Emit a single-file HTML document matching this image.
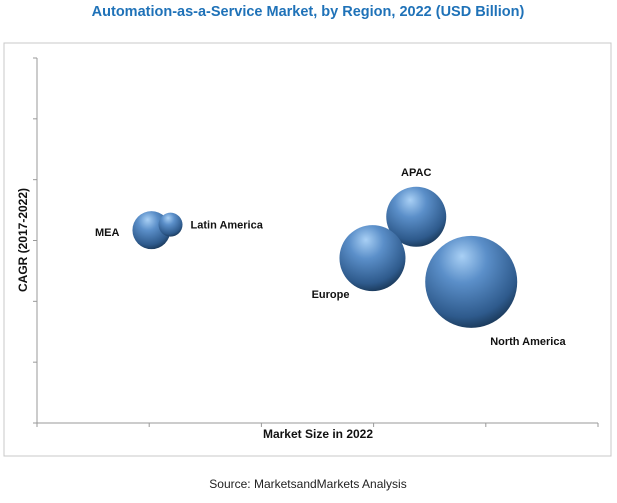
<!DOCTYPE html>
<html><head><meta charset="utf-8"><style>
body{margin:0;background:#fff;width:617px;height:498px;overflow:hidden;font-family:"Liberation Sans",sans-serif}
</style></head><body>
<svg width="617" height="498" xmlns="http://www.w3.org/2000/svg">
<defs>
<radialGradient id="bg" cx="0.42" cy="0.3" r="0.75" fx="0.4" fy="0.22">
<stop offset="0" stop-color="#a9d0f5"/><stop offset="0.35" stop-color="#5b8fc9"/><stop offset="0.8" stop-color="#2e5a8c"/><stop offset="1" stop-color="#16324f"/>
</radialGradient>
</defs>
<text x="308" y="16" text-anchor="middle" font-size="14.5" font-weight="bold" fill="#1f72b8">Automation-as-a-Service Market, by Region, 2022 (USD Billion)</text>
<rect x="4" y="43" width="607" height="413" fill="none" stroke="#c8c8c8"/>
<g id="axes"></g>
<g id="bubbles"></g>
<text x="318" y="438" text-anchor="middle" font-size="12" font-weight="bold" fill="#111">Market Size in 2022</text>
<text transform="translate(27,240) rotate(-90)" text-anchor="middle" font-size="12" font-weight="bold" fill="#111">CAGR (2017-2022)</text>
<text x="308" y="488" text-anchor="middle" font-size="12" fill="#222">Source: MarketsandMarkets Analysis</text>
</svg>
<script>
const regions=["MEA","Latin America","APAC","Europe","North America"];
const marketSize=[1.02,1.19,3.38,2.99,3.87];
const cagr=[3.17,3.26,3.39,2.71,2.32];
const bubbleSize=[19,12,30,33,46];
const labelDx=[-32,20,0,-23,19];
const labelDy=[6,4,-41,40,63];
const anchors=["end","start","middle","end","start"];
const xTicks=[0,1,2,3,4,5];
const yTicks=[0,1,2,3,4,5,6];
const X0=37,X1=598,Y0=423,Y1=58;
const xs=v=>X0+(X1-X0)*v/5;
const ys=v=>Y0-(Y0-Y1)*v/6;
const NS="http://www.w3.org/2000/svg";
const ax=document.getElementById('axes');
function mk(t,a,p){const e=document.createElementNS(NS,t);for(const k in a)e.setAttribute(k,a[k]);p.appendChild(e);return e;}
let l=mk('line',{x1:X0,y1:Y1,x2:X0,y2:Y0,stroke:'#999'},ax);


l=mk('line',{x1:X0,y1:Y0,x2:X1,y2:Y0,stroke:'#999'},ax);


xTicks.forEach(t=>{const e=mk('line',{x1:xs(t),y1:Y0,x2:xs(t),y2:Y0+4,stroke:'#999'},ax);

});
yTicks.forEach(t=>{const e=mk('line',{x1:X0-4,y1:ys(t),x2:X0,y2:ys(t),stroke:'#999'},ax);

});
const bg=document.getElementById('bubbles');
regions.forEach((r,i)=>{
const cx=xs(marketSize[i]),cy=ys(cagr[i]);
const c=mk('circle',{cx:cx,cy:cy,r:bubbleSize[i],fill:'url(#bg)'},bg);


const t=mk('text',{x:cx+labelDx[i],y:cy+labelDy[i],'text-anchor':anchors[i],'font-size':11,'font-weight':'bold',fill:'#111'},bg);
t.textContent=r;


});
</script>
</body></html>
